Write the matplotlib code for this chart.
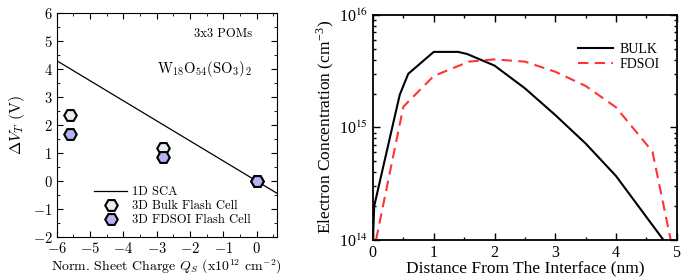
import numpy as np
import matplotlib
matplotlib.use("Agg")
import matplotlib.pyplot as plt
from matplotlib.ticker import MultipleLocator, LogLocator, NullFormatter

plt.rcParams['mathtext.fontset'] = 'cm'
plt.rcParams['axes.formatter.use_mathtext'] = True

# left panel data
sca_x = [-6.0, 0.6]
sca_y = [4.3, -0.43]
qs = [-5.6, -2.8, 0.0]
dvt_bulk = [2.35, 1.2, 0.0]
dvt_fdsoi = [1.7, 0.85, 0.0]

# right panel data
bulk_x = [0.0, 0.02, 0.44, 0.58, 1.0, 1.4, 1.55, 2.0, 2.5, 3.0, 3.5, 4.0, 4.78]
bulk_n = [1e14, 2e14, 1.95e15, 3.0e15, 4.7e15, 4.7e15, 4.5e15, 3.55e15, 2.23e15,
          1.29e15, 7.2e14, 3.7e14, 1e14]
fd_x = [0.05, 0.5, 1.0, 1.58, 2.0, 2.5, 3.0, 3.5, 4.0, 4.6, 4.9]
fd_n = [1e14, 1.53e15, 2.87e15, 3.85e15, 4.03e15, 3.85e15, 3.13e15, 2.34e15,
        1.51e15, 6.1e14, 1e14]

fig = plt.figure(figsize=(6.92, 2.78), dpi=100)

# ---- left
cm = ['cmr10', 'DejaVu Serif']
ax1 = fig.add_axes([0.082, 0.147, 0.318, 0.806])
ax1.plot(sca_x, sca_y, color='black', lw=0.9, label='1D SCA')
ax1.plot(qs, dvt_bulk, 'H', ms=9, mfc='#ededed', mec='black', mew=1.5,
         ls='none', label='3D Bulk Flash Cell')
ax1.plot(qs, dvt_fdsoi, 'H', ms=9, mfc='#b4b4f4', mec='black', mew=1.5,
         ls='none', label='3D FDSOI Flash Cell')
ax1.set_xlim(-6.0, 0.6)
ax1.set_ylim(-2, 6)
ax1.xaxis.set_major_locator(MultipleLocator(1))
ax1.xaxis.set_minor_locator(MultipleLocator(0.5))
ax1.yaxis.set_major_locator(MultipleLocator(1))
ax1.yaxis.set_minor_locator(MultipleLocator(0.5))
ax1.tick_params(which='both', direction='in', top=True, right=True, labelsize=10.5, pad=3)
ax1.tick_params(which='major', length=4)
ax1.tick_params(which='minor', length=2)
for lbl in ax1.get_xticklabels() + ax1.get_yticklabels():
    lbl.set_family(cm)
ax1.set_xlabel(r'Norm. Sheet Charge $Q_S$ (x10$^{12}$ cm$^{-2}$)', family=cm,
               fontsize=10, labelpad=1)
ax1.set_ylabel(r'$\Delta V_T$ (V)', family=cm, fontsize=11.5, labelpad=4)
ax1.text(-0.15, 5.27, '3x3 POMs', ha='right', va='center', family=cm, fontsize=9)
ax1.text(-0.15, 4.02, r'$\mathrm{W_{18}O_{54}(SO_3)_2}$', ha='right', va='center', fontsize=10.5)
ax1.legend(loc='lower left', bbox_to_anchor=(0.12, 0.0), frameon=False,
           prop={'family': cm, 'size': 9}, handlelength=2.6, labelspacing=0.15,
           handletextpad=0.4)

# ---- right
ax2 = fig.add_axes([0.539, 0.137, 0.439, 0.809])
ax2.plot(bulk_x, bulk_n, color='black', lw=1.5, label='BULK')
ax2.plot(fd_x, fd_n, color='#ff3333', lw=1.5, ls=(0, (5, 3)), label='FDSOI')
ax2.set_yscale('log')
ax2.set_xlim(0, 5)
ax2.set_ylim(1e14, 1e16)
ax2.xaxis.set_major_locator(MultipleLocator(1))
ax2.xaxis.set_minor_locator(MultipleLocator(0.5))
ax2.yaxis.set_minor_locator(LogLocator(base=10, subs=np.arange(2, 10)))
ax2.yaxis.set_minor_formatter(NullFormatter())
ax2.set_yticks([1e14, 1e15, 1e16], labels=[r'10$^{14}$', r'10$^{15}$', r'10$^{16}$'])
ax2.tick_params(which='both', direction='in', top=True, right=True, labelsize=11.5, width=1)
ax2.tick_params(which='major', length=5)
ax2.tick_params(which='minor', length=2.5)
for s in ax2.spines.values():
    s.set_linewidth(1.3)
times = ['Liberation Serif']
for lbl in ax2.get_xticklabels() + ax2.get_yticklabels():
    lbl.set_family(times)
    lbl.set_math_fontfamily('stix')
ax2.set_xlabel('Distance From The Interface (nm)', family=times, fontsize=12.5, labelpad=0)
ax2.set_ylabel(r'Electron Concentration (cm$^{\mathdefault{-3}}$)', family=times,
               fontsize=12.5, math_fontfamily='stix', labelpad=2)
ax2.legend(loc='upper right', bbox_to_anchor=(0.985, 0.93), frameon=False,
           prop={'family': times, 'size': 10}, handlelength=2.5, labelspacing=0.1,
           handletextpad=0.5)

fig.savefig('out.png', dpi=100)
